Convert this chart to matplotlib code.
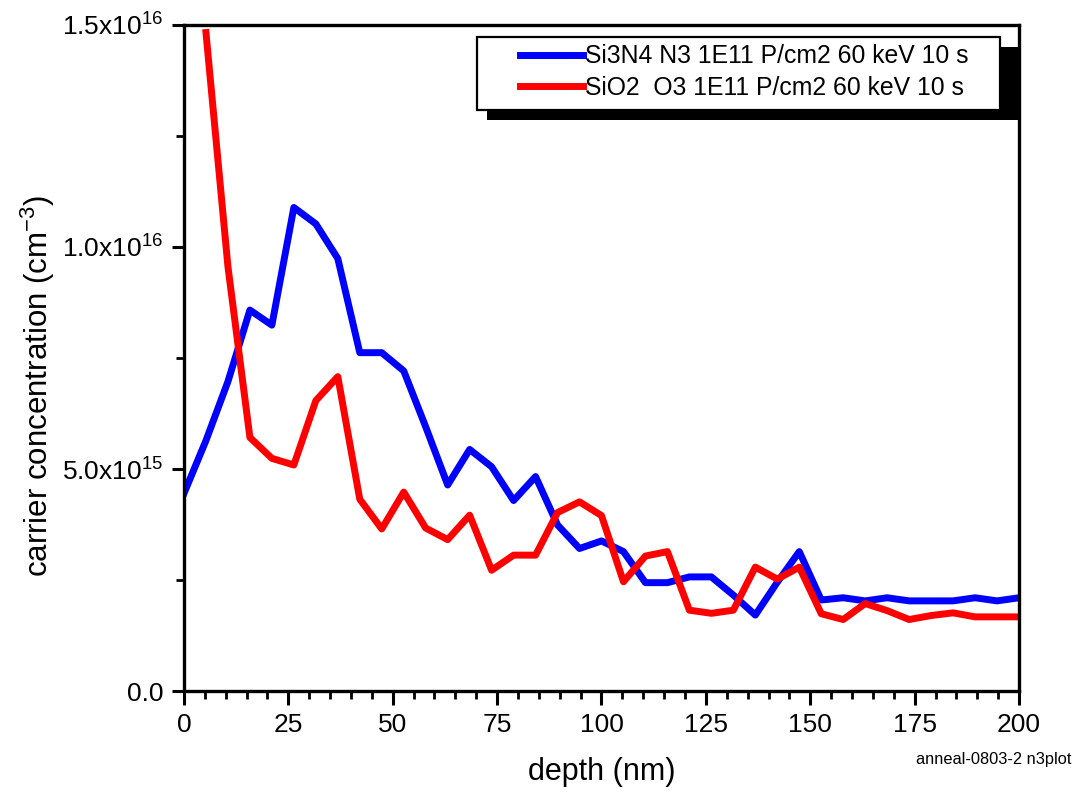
import numpy as np
import matplotlib
matplotlib.use("Agg")
import matplotlib.pyplot as plt
from matplotlib.patches import Rectangle

plt.rcParams['font.family'] = ['Liberation Sans', 'DejaVu Sans']
plt.rcParams['mathtext.fontset'] = 'custom'
plt.rcParams['mathtext.rm'] = 'Liberation Sans'
plt.rcParams['mathtext.it'] = 'Liberation Sans'

# depth grid (nm), 39 points from 0 to 200
depth = np.linspace(0, 200, 39)

# carrier concentration in units of 1e15 cm^-3
si3n4 = [4.45, 5.64, 6.97, 8.58, 8.24, 10.89, 10.52, 9.74, 7.62, 7.62,
         7.21, 5.95, 4.64, 5.44, 5.05, 4.29, 4.83, 3.74, 3.21, 3.38,
         3.14, 2.44, 2.44, 2.57, 2.57, 2.16, 1.71, 2.45, 3.14, 2.05,
         2.10, 2.03, 2.10, 2.03, 2.03, 2.03, 2.10, 2.03, 2.10]
# SiO2 has no point at depth 0
sio2 = [np.nan, 14.83, 9.56, 5.71, 5.24, 5.09, 6.54, 7.08, 4.32, 3.65,
        4.48, 3.67, 3.41, 3.96, 2.72, 3.06, 3.06, 4.02, 4.26, 3.95,
        2.46, 3.04, 3.14, 1.82, 1.75, 1.82, 2.79, 2.52, 2.79, 1.74,
        1.61, 1.97, 1.81, 1.61, 1.70, 1.76, 1.67, 1.67, 1.67]

labels = ["Si3N4 N3 1E11 P/cm2 60 keV 10 s", "SiO2  O3 1E11 P/cm2 60 keV 10 s"]
yticks = [0, 5e15, 1e16, 1.5e16]
ytick_labels = ["0.0", "5.0x10$^{15}$", "1.0x10$^{16}$", "1.5x10$^{16}$"]

fig = plt.figure(figsize=(10.74, 7.96), dpi=100)
ax = fig.add_axes([0.1713, 0.1319, 0.7775, 0.8367])

ax.plot(depth, np.array(si3n4) * 1e15, color="#0000ff", lw=5, label=labels[0])
ax.plot(depth, np.array(sio2) * 1e15, color="#ff0000", lw=5, label=labels[1])

ax.set_xlim(0, 200)
ax.set_ylim(0, 1.5e16)
ax.set_xticks(np.arange(0, 201, 25))
ax.set_xticks(np.arange(0, 201, 5), minor=True)
ax.set_yticks(yticks)
ax.set_yticklabels(ytick_labels)
ax.set_yticks(np.arange(0, 1.51e16, 2.5e15), minor=True)

for s in ax.spines.values():
    s.set_linewidth(2.4)
ax.tick_params(axis="both", which="major", direction="out", width=2.2,
               labelsize=19)
ax.tick_params(axis="x", which="major", length=10, pad=6)
ax.tick_params(axis="x", which="minor", direction="out", length=5.5, width=2)
ax.tick_params(axis="y", which="major", length=9, pad=6)
ax.tick_params(axis="y", which="minor", direction="out", length=6, width=2)

ax.set_xlabel("depth (nm)", fontsize=22, labelpad=14)
ax.set_ylabel("carrier concentration (cm$^{-3}$)", fontsize=22.5)
ax.yaxis.set_label_coords(-0.152, 0.458)

# legend frame with solid black shadow
ax.add_patch(Rectangle((0.363, 0.857), 0.637, 0.11, transform=ax.transAxes,
                       facecolor="black", edgecolor="none", zorder=5,
                       clip_on=False))
ax.add_patch(Rectangle((0.351, 0.872), 0.626, 0.11, transform=ax.transAxes,
                       facecolor="white", edgecolor="black", lw=1.6, zorder=6))
leg = ax.legend(loc="upper left", bbox_to_anchor=(0.402, 0.971), frameon=False,
                fontsize=17.8, handlelength=2.55, handletextpad=0.08,
                labelspacing=0.3, borderpad=0, borderaxespad=0)
leg.set_zorder(7)

fig.text(0.998, 0.04, "anneal-0803-2 n3plot", ha="right", va="baseline",
         fontsize=11.8)

fig.savefig("out.png", dpi=100)
